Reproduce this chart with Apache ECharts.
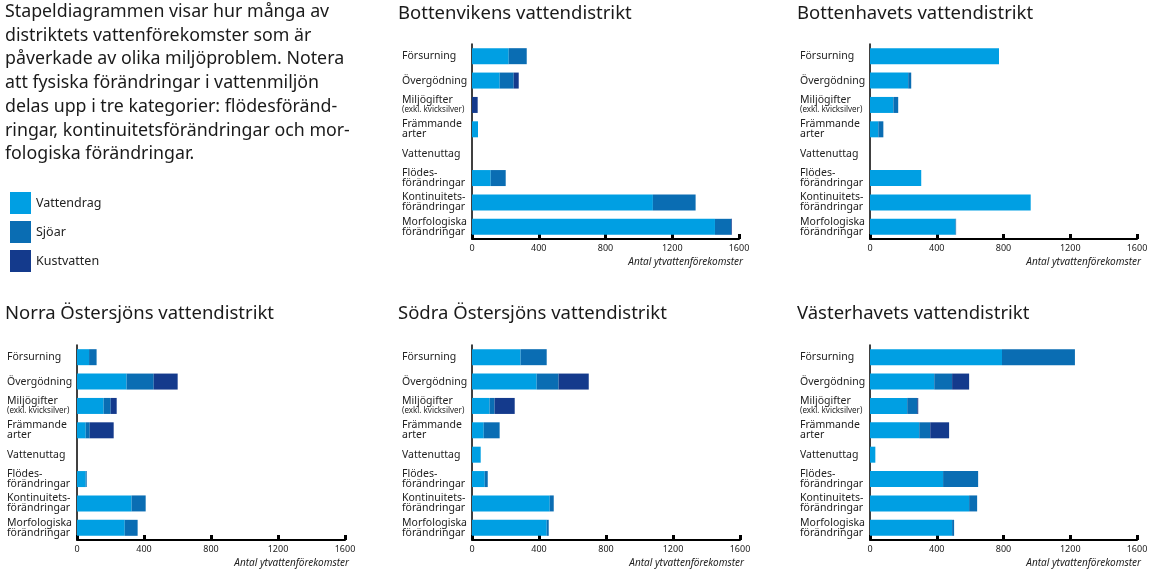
<!DOCTYPE html>
<html><head><meta charset="utf-8">
<script src="https://cdn.jsdelivr.net/npm/echarts@6/dist/echarts.min.js"></script>
<style>html,body{margin:0;padding:0;background:#fff}#c{width:1158px;height:576px}</style>
</head><body><div id="c"></div>
<script>
const categories = ["Försurning","Övergödning","Miljögifter\n(exkl. kvicksilver)","Främmande\narter","Vattenuttag","Flödes-\nförändringar","Kontinuitets-\nförändringar","Morfologiska\nförändringar"];
const seriesNames = ["Vattendrag","Sjöar","Kustvatten"];
const xTicks = [0,400,800,1200,1600];

const titles = ["Bottenvikens vattendistrikt","Bottenhavets vattendistrikt","Norra Östersjöns vattendistrikt","Södra Östersjöns vattendistrikt","Västerhavets vattendistrikt"];

// Bottenvikens
const bottenvikVattendrag = [220,166,0,36,0,112,1084,1456];
const bottenvikSjoar      = [108,84,0,0,0,90,256,98];
const bottenvikKust       = [0,30,34,0,0,0,0,4];
// Bottenhavets
const bottenhavVattendrag = [773,229,140,50,0,307,963,512];
const bottenhavSjoar      = [0,18,29,30,0,0,0,4];
const bottenhavKust       = [0,0,0,0,0,0,0,0];
// Norra Östersjöns
const norraVattendrag = [72,296,159,52,0,52,326,285];
const norraSjoar      = [45,162,42,24,0,6,84,77];
const norraKust       = [0,143,36,143,0,0,0,0];
// Södra Östersjöns
const sodraVattendrag = [290,386,105,70,52,76,464,446];
const sodraSjoar      = [156,131,30,95,0,18,24,12];
const sodraKust       = [0,180,120,0,0,0,0,0];
// Västerhavets
const vastVattendrag = [791,385,223,295,32,438,594,492];
const vastSjoar      = [437,107,60,66,0,210,48,12];
const vastKust       = [0,102,6,113,0,0,0,0];

const introLines = ["Stapeldiagrammen visar hur många av","distriktets vattenförekomster som är","påverkade av olika miljöproblem. Notera","att fysiska förändringar i vattenmiljön","delas upp i tre kategorier: flödesföränd-","ringar, kontinuitetsförändringar och mor-","fologiska förändringar."];
const axisName = "Antal ytvattenförekomster";

const panelData = [
  [bottenvikVattendrag,bottenvikSjoar,bottenvikKust],
  [bottenhavVattendrag,bottenhavSjoar,bottenhavKust],
  [norraVattendrag,norraSjoar,norraKust],
  [sodraVattendrag,sodraSjoar,sodraKust],
  [vastVattendrag,vastSjoar,vastKust]
];

const colors = ["#009fe3","#0a6db3","#143a8c"];
const FONT = "'Noto Sans', sans-serif";

// layout
const grids = [
  {left:472, top:44, width:267, height:195, titleX:398, titleY:4},
  {left:870, top:44, width:267, height:195, titleX:797, titleY:4},
  {left:77,  top:345, width:268, height:195, titleX:5, titleY:304},
  {left:472, top:345, width:268, height:195, titleX:398, titleY:304},
  {left:870, top:345, width:267, height:195, titleX:797, titleY:304}
];

const chart = echarts.init(document.getElementById('c'), null, {renderer:'canvas'});

const option = {
  backgroundColor:'#fff',
  animation:false,
  textStyle:{fontFamily:FONT},
  grid: grids.map(g=>({left:g.left, top:g.top, width:g.width, height:g.height, containLabel:false})),
  xAxis: grids.map((g,i)=>({
    gridIndex:i, type:'value', min:xTicks[0], max:xTicks[xTicks.length-1], interval:xTicks[1]-xTicks[0],
    axisLine:{show:true, lineStyle:{color:'#000', width:2}},
    axisTick:{show:true, inside:true, length:5, lineStyle:{color:'#000', width:3}},
    splitLine:{show:false},
    axisLabel:{fontSize:9, color:'#222', margin:5, fontFamily:FONT, formatter:v=>String(v)},
    name: axisName, nameLocation:'end', nameGap:0,
    nameTextStyle:{fontStyle:'italic', fontSize:10, color:'#222', align:'right', verticalAlign:'top', padding:[18,-4,0,0], fontFamily:FONT}
  })),
  yAxis: grids.map((g,i)=>({
    gridIndex:i, type:'category', data:categories, inverse:true,
    axisLine:{show:true, lineStyle:{color:'#000', width:1.5}},
    axisTick:{show:false},
    axisLabel:{
      align:'left', margin:70, color:'#222',
      formatter:function(v){
        if (v.indexOf('(')>=0){ const p=v.split('\n'); return '{a|'+p[0]+'}\n{s|'+p[1]+'}'; }
        return v.split('\n').map(t=>'{a|'+t+'}').join('\n');
      },
      rich:{
        a:{fontSize:10.5, lineHeight:10, color:'#222', fontFamily:FONT},
        s:{fontSize:8, lineHeight:9, color:'#222', fontFamily:FONT}
      }
    }
  })),
  legend:{
    data:seriesNames, orient:'vertical', left:5, top:187, itemWidth:21, itemHeight:22, itemGap:7,
    icon:'rect', textStyle:{fontSize:12.5, color:'#222', fontFamily:FONT}, selectedMode:false
  },
  graphic: [
    ...introLines.map((t,i)=>({type:'text', left:5, top:3+i*23.7, style:{text:t, fontSize:17.8, fill:'#1a1a1a', fontFamily:FONT}})),
    ...grids.map((g,i)=>({type:'text', left:g.titleX, top:g.titleY, style:{text:titles[i], fontSize:18.5, fill:'#1a1a1a', fontFamily:FONT}}))
  ],
  series: []
};

panelData.forEach((arrs,pi)=>{
  arrs.forEach((arr,si)=>{
    option.series.push({
      type:'bar', name:seriesNames[si], xAxisIndex:pi, yAxisIndex:pi, stack:'p'+pi,
      data:arr, barWidth:16, itemStyle:{color:colors[si]}, silent:true
    });
  });
});

chart.setOption(option);
</script></body></html>
